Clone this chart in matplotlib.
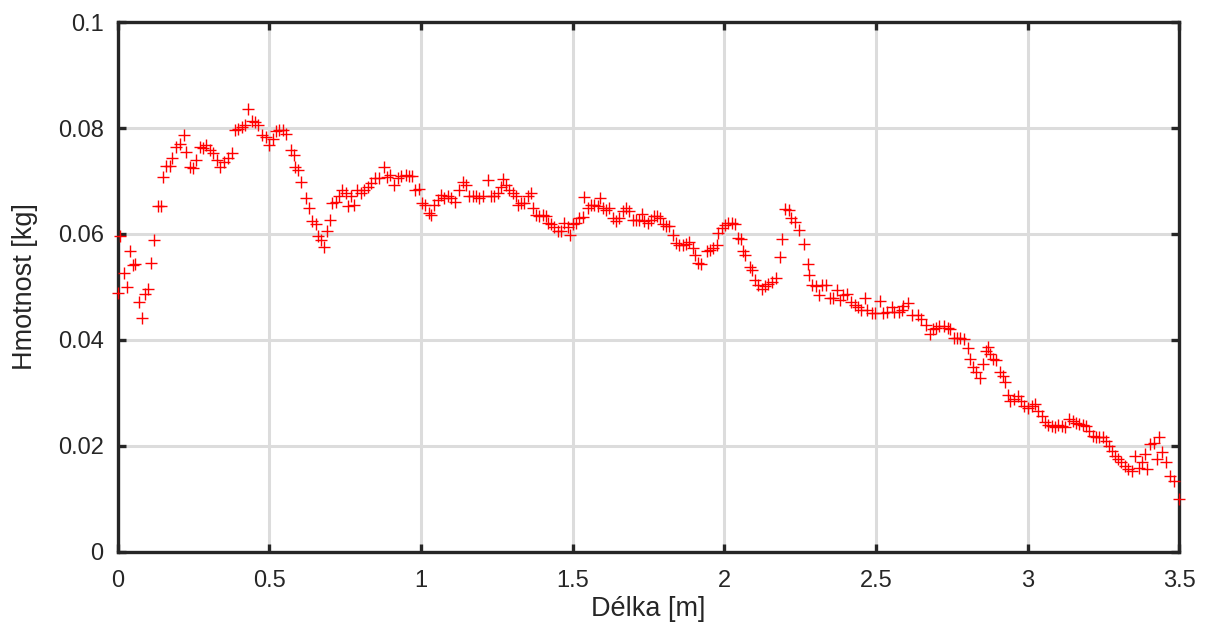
import matplotlib
matplotlib.use("Agg")
import matplotlib.pyplot as plt

# Délka [m] vs Hmotnost [kg]
delka = [
    0.000, 0.008, 0.022, 0.030, 0.040, 0.051, 0.059, 0.070, 0.081, 0.090,
    0.101, 0.109, 0.119, 0.133, 0.142, 0.150, 0.161, 0.172, 0.181, 0.194,
    0.205, 0.219, 0.226, 0.240, 0.248, 0.259, 0.270, 0.281, 0.292, 0.303,
    0.314, 0.328, 0.339, 0.352, 0.363, 0.376, 0.387, 0.398, 0.409, 0.420,
    0.429, 0.442, 0.453, 0.464, 0.475, 0.489, 0.500, 0.511, 0.522, 0.533,
    0.544, 0.555, 0.571, 0.580, 0.584, 0.595, 0.606, 0.620, 0.631, 0.642,
    0.653, 0.661, 0.672, 0.681, 0.689, 0.700, 0.708, 0.719, 0.730, 0.741,
    0.752, 0.759, 0.768, 0.779, 0.790, 0.801, 0.812, 0.825, 0.836, 0.850,
    0.861, 0.877, 0.888, 0.899, 0.910, 0.923, 0.934, 0.949, 0.960, 0.970,
    0.981, 0.992, 1.003, 1.014, 1.025,
    1.033, 1.044, 1.055, 1.066, 1.077, 1.088, 1.099, 1.112, 1.126, 1.137,
    1.148, 1.159, 1.170, 1.181, 1.192, 1.203, 1.220, 1.231, 1.242, 1.253,
    1.264, 1.269, 1.280, 1.291, 1.302, 1.313, 1.319, 1.330, 1.341, 1.352,
    1.363, 1.368, 1.379, 1.390, 1.401, 1.412, 1.418, 1.429, 1.440, 1.451,
    1.462, 1.473, 1.484, 1.492, 1.500, 1.511, 1.522, 1.533, 1.538, 1.549,
    1.560, 1.571, 1.582, 1.591, 1.599, 1.610, 1.621, 1.632, 1.643, 1.654,
    1.665, 1.676, 1.687, 1.698, 1.709, 1.720, 1.727, 1.736, 1.747, 1.758,
    1.769, 1.778, 1.789, 1.797, 1.808, 1.819, 1.830, 1.841, 1.852, 1.863,
    1.874, 1.885, 1.896, 1.904, 1.912, 1.923,
    1.942, 1.953, 1.964, 1.975, 1.980, 1.991, 2.002, 2.013, 2.024, 2.035,
    2.044, 2.055, 2.063, 2.068, 2.085, 2.092, 2.101, 2.112, 2.123, 2.134,
    2.145, 2.156, 2.169, 2.184, 2.189, 2.200, 2.213, 2.220, 2.233, 2.246,
    2.264, 2.275, 2.279, 2.288, 2.301, 2.312, 2.321, 2.334, 2.348, 2.359,
    2.370, 2.381, 2.392, 2.403, 2.418, 2.429, 2.440, 2.451, 2.462, 2.469,
    2.486, 2.497, 2.513, 2.524, 2.535, 2.552, 2.560, 2.574, 2.585,
    2.588, 2.604, 2.620, 2.637, 2.648, 2.665, 2.679, 2.687, 2.698, 2.709,
    2.723, 2.736, 2.745, 2.756, 2.767, 2.778, 2.789, 2.802, 2.811, 2.819,
    2.830, 2.841, 2.852, 2.863, 2.870, 2.874, 2.885, 2.896, 2.907, 2.918,
    2.925, 2.934, 2.943, 2.956, 2.967, 2.978, 2.989, 3.000, 3.013, 3.024,
    3.033, 3.046, 3.057, 3.066, 3.079, 3.090, 3.101, 3.112, 3.123, 3.137,
    3.148, 3.159, 3.170, 3.181, 3.192, 3.203, 3.214, 3.225, 3.236, 3.247,
    3.258, 3.269, 3.277, 3.288, 3.297, 3.308, 3.319, 3.332, 3.343, 3.352,
    3.365, 3.376, 3.385, 3.393, 3.404, 3.415, 3.426, 3.434, 3.442, 3.456,
    3.470, 3.481, 3.497,
]

hmotnost = [
    0.0488, 0.0596, 0.0526, 0.0500, 0.0568, 0.0541, 0.0543, 0.0471, 0.0441, 0.0486,
    0.0496, 0.0546, 0.0588, 0.0653, 0.0653, 0.0708, 0.0728, 0.0728, 0.0743, 0.0764,
    0.0769, 0.0786, 0.0755, 0.0726, 0.0724, 0.0739, 0.0764, 0.0763, 0.0768, 0.0758,
    0.0752, 0.0739, 0.0727, 0.0736, 0.0743, 0.0753, 0.0797, 0.0799, 0.0801, 0.0805,
    0.0836, 0.0814, 0.0811, 0.0805, 0.0786, 0.0783, 0.0768, 0.0780, 0.0794, 0.0796,
    0.0797, 0.0789, 0.0758, 0.0749, 0.0727, 0.0721, 0.0699, 0.0668, 0.0649, 0.0624,
    0.0618, 0.0596, 0.0589, 0.0576, 0.0605, 0.0627, 0.0659, 0.0661, 0.0671, 0.0683,
    0.0677, 0.0652, 0.0671, 0.0655, 0.0683, 0.0677, 0.0683, 0.0689, 0.0696, 0.0705,
    0.0705, 0.0727, 0.0707, 0.0711, 0.0693, 0.0705, 0.0709, 0.0711, 0.0709, 0.0709,
    0.0683, 0.0684, 0.0658, 0.0655, 0.0639,
    0.0636, 0.0655, 0.0664, 0.0674, 0.0668, 0.0671, 0.0668, 0.0661, 0.0683, 0.0699,
    0.0693, 0.0671, 0.0672, 0.0671, 0.0668, 0.0672, 0.0701, 0.0672, 0.0671, 0.0677,
    0.0689, 0.0703, 0.0693, 0.0683, 0.0677, 0.0671, 0.0655, 0.0658, 0.0658, 0.0671,
    0.0678, 0.0649, 0.0636, 0.0633, 0.0636, 0.0633, 0.0621, 0.0619, 0.0614, 0.0605,
    0.0605, 0.0621, 0.0613, 0.0599, 0.0618, 0.0621, 0.0630, 0.0632, 0.0669, 0.0649,
    0.0655, 0.0655, 0.0652, 0.0668, 0.0649, 0.0646, 0.0649, 0.0630, 0.0624, 0.0630,
    0.0643, 0.0649, 0.0644, 0.0627, 0.0626, 0.0627, 0.0638, 0.0624, 0.0621, 0.0627,
    0.0633, 0.0634, 0.0630, 0.0618, 0.0616, 0.0616, 0.0599, 0.0583, 0.0580, 0.0580,
    0.0582, 0.0584, 0.0574, 0.0561, 0.0546, 0.0543,
    0.0567, 0.0570, 0.0573, 0.0579, 0.0601, 0.0611, 0.0617, 0.0620, 0.0620, 0.0619,
    0.0592, 0.0590, 0.0567, 0.0560, 0.0538, 0.0532, 0.0513, 0.0504, 0.0497, 0.0501,
    0.0506, 0.0510, 0.0516, 0.0556, 0.0590, 0.0648, 0.0645, 0.0630, 0.0623, 0.0608,
    0.0581, 0.0543, 0.0523, 0.0504, 0.0501, 0.0485, 0.0504, 0.0504, 0.0479, 0.0479,
    0.0494, 0.0475, 0.0485, 0.0487, 0.0472, 0.0466, 0.0463, 0.0457, 0.0480, 0.0457,
    0.0450, 0.0450, 0.0474, 0.0450, 0.0453, 0.0463, 0.0453, 0.0453, 0.0457,
    0.0465, 0.0470, 0.0448, 0.0448, 0.0439, 0.0428, 0.0411, 0.0420, 0.0423, 0.0426,
    0.0426, 0.0423, 0.0421, 0.0404, 0.0404, 0.0403, 0.0401, 0.0384, 0.0364, 0.0348,
    0.0340, 0.0329, 0.0354, 0.0379, 0.0386, 0.0373, 0.0364, 0.0362, 0.0340, 0.0332,
    0.0320, 0.0297, 0.0285, 0.0288, 0.0294, 0.0285, 0.0275, 0.0272, 0.0275, 0.0279,
    0.0266, 0.0257, 0.0245, 0.0239, 0.0238, 0.0235, 0.0239, 0.0238, 0.0235, 0.0250,
    0.0247, 0.0243, 0.0241, 0.0239, 0.0238, 0.0228, 0.0219, 0.0216, 0.0216, 0.0216,
    0.0209, 0.0200, 0.0191, 0.0181, 0.0175, 0.0169, 0.0162, 0.0156, 0.0153, 0.0181,
    0.0159, 0.0169, 0.0184, 0.0156, 0.0203, 0.0206, 0.0176, 0.0216, 0.0189, 0.0170,
    0.0143, 0.0134, 0.0099,
]

x_ticks = [0, 0.5, 1, 1.5, 2, 2.5, 3, 3.5]
x_tick_labels = ['0', '0.5', '1', '1.5', '2', '2.5', '3', '3.5']
y_ticks = [0, 0.02, 0.04, 0.06, 0.08, 0.1]
y_tick_labels = ['0', '0.02', '0.04', '0.06', '0.08', '0.1']

plt.rcParams['font.family'] = ['Liberation Sans', 'DejaVu Sans']
dark = '#262626'

fig = plt.figure(figsize=(12.06, 6.30), dpi=100)
ax = fig.add_axes([0.0975, 0.124, 0.8805, 0.841])

ax.plot(delka, hmotnost, '+', color='red', markersize=8.5, markeredgewidth=1.0,
        clip_on=False, zorder=3)

ax.set_xlim(0, 3.5)
ax.set_ylim(0, 0.1)
ax.set_xticks(x_ticks)
ax.set_xticklabels(x_tick_labels)
ax.set_yticks(y_ticks)
ax.set_yticklabels(y_tick_labels)

ax.grid(True, color='#dcdcdc', linewidth=2.2)
ax.set_axisbelow(True)

for s in ax.spines.values():
    s.set_color(dark)
    s.set_linewidth(2.4)

ax.tick_params(axis='both', direction='in', length=6, width=2.4, color=dark,
               labelcolor=dark, labelsize=17, top=True, right=True)
ax.tick_params(axis='y', pad=10)
ax.tick_params(axis='x', pad=13)

ax.set_xlabel('Délka [m]', fontsize=19.5, color=dark, labelpad=3)
ax.set_ylabel('Hmotnost [kg]', fontsize=19.5, color=dark, labelpad=14)

fig.savefig('out.png', dpi=100)
